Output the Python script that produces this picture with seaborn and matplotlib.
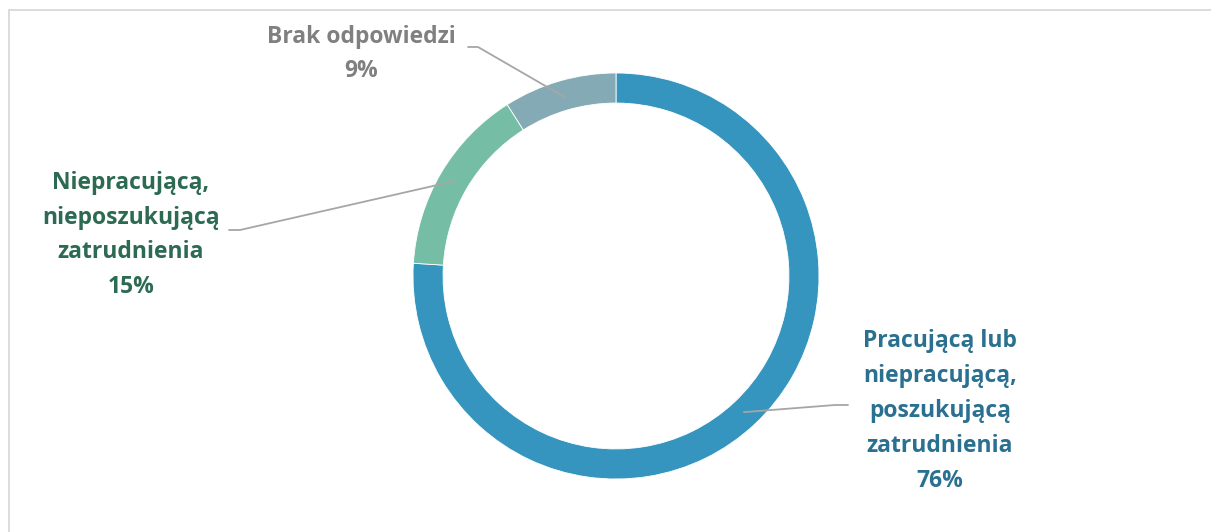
import seaborn as sns
import matplotlib.pyplot as plt
from matplotlib.lines import Line2D
from matplotlib.patches import Rectangle
import numpy as np

# data
categories = ["Pracującą lub\nniepracującą,\nposzukującą\nzatrudnienia",
              "Niepracującą,\nnieposzukującą\nzatrudnienia",
              "Brak odpowiedzi"]
shares = [76, 15, 9]
colors = ["#3595BE", "#75BEA5", "#84ABB5"]
label_colors = ["#2A7090", "#2D6A53", "#808080"]

sns.set_theme(style="white")
plt.rcParams['font.family'] = ['Open Sans', 'DejaVu Sans']

W, H = 1211, 532
fig = plt.figure(figsize=(W / 100, H / 100), dpi=100)

# donut centre / radius in pixels
cx, cy, r = 616, 276, 203
ax = fig.add_axes([(cx - r) / W, (H - cy - r) / H, 2 * r / W, 2 * r / H])
wedges, _ = ax.pie(shares, colors=colors, startangle=90, counterclock=False,
                   radius=1, wedgeprops=dict(width=0.148, edgecolor="white", linewidth=0.6))
ax.set_xlim(-1, 1)
ax.set_ylim(-1, 1)
ax.set_aspect("equal")
ax.axis("off")

# border of the chart area
fig.patches.append(Rectangle((9 / W, -0.1), 1.0, 1.1 - 10 / H, transform=fig.transFigure,
                             fill=False, edgecolor="#D9D9D9", linewidth=1.3))

def px(x, y):
    return x / W, 1 - y / H

# label positions (text centre) and leader start / elbow in pixels
label_pos = [(940, 411), (131, 235), (361, 54)]
leader_start = [(848, 405), (229, 230), (468, 47)]
leader_elbow = [(835, 405), (240, 230), (478, 47)]

fig.canvas.draw()
for i, w in enumerate(wedges):
    ang = np.deg2rad((w.theta1 + w.theta2) / 2)
    dx, dy = ax.transData.transform((0.92 * np.cos(ang), 0.92 * np.sin(ang)))
    end = (dx, H - dy)
    pts = [leader_start[i], leader_elbow[i], end]
    xs = [p[0] / W for p in pts]
    ys = [1 - p[1] / H for p in pts]
    fig.add_artist(Line2D(xs, ys, transform=fig.transFigure, color="#A6A6A6", linewidth=1.3))
    tx, ty = px(*label_pos[i])
    fig.text(tx, ty, f"{categories[i]}\n{shares[i]}%", ha="center", va="center",
             fontsize=16.5, fontweight="bold", color=label_colors[i], linespacing=1.6)

fig.savefig("out.png", dpi=100, facecolor="white")
